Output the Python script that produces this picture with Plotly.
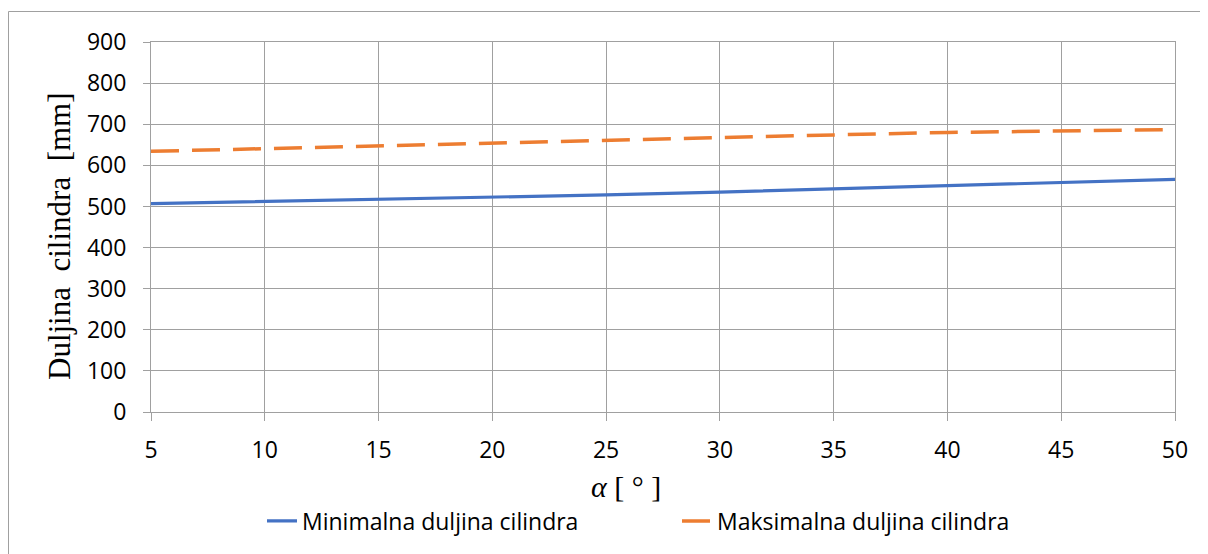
import plotly.graph_objects as go

alpha_deg = [5, 10, 15, 20, 25, 30, 35, 40, 45, 50]
min_len = [507, 512, 517, 522, 528, 535, 543, 550, 559, 566]
max_len = [634, 641, 648, 655, 662, 669, 674, 680, 684, 687]
series_names = ["Minimalna duljina cilindra", "Maksimalna duljina cilindra"]
y_ticks = [0, 100, 200, 300, 400, 500, 600, 700, 800, 900]
x_ticks = [5, 10, 15, 20, 25, 30, 35, 40, 45, 50]

# page has an 8px body margin: work in page pixels, convert to figure pixels
OFF = 8
PAGE_W, PAGE_H = 1208, 554
W, H = PAGE_W - OFF, PAGE_H - OFF
PL, PR, PT, PB = 151, 1175, 42, 412      # plot area in page pixels
L, T = PL - OFF, PT - OFF
R = W - (PR - OFF)
B = H - (PB - OFF)
pw, ph = PR - PL, PB - PT

def px(xp):
    return (xp - PL) / pw

def py(yp):
    return (PB - yp) / ph

tick_font = dict(family="Open Sans, Noto Sans, sans-serif", size=23, color="#000000")
grid = "#A0A0A0"

fig = go.Figure()
fig.add_trace(go.Scatter(x=alpha_deg, y=min_len, mode="lines", name=series_names[0],
                         line=dict(color="#4472C4", width=3.2)))
fig.add_trace(go.Scatter(x=alpha_deg, y=max_len, mode="lines", name=series_names[1],
                         line=dict(color="#ED7D31", width=3.5, dash="28px,13px")))

fig.update_layout(
    width=W, height=H,
    margin=dict(l=L, r=R, t=T, b=B, pad=0),
    paper_bgcolor="white", plot_bgcolor="white",
    font=tick_font,
    showlegend=True,
    legend=dict(orientation="h", x=px(262), xanchor="left", y=py(521), yanchor="middle",
                font=tick_font, entrywidth=370, entrywidthmode="pixels",
                bgcolor="rgba(0,0,0,0)", borderwidth=0, tracegroupgap=0),
    xaxis=dict(range=[5, 50], tickmode="array", tickvals=x_ticks, ticktext=[str(v) for v in x_ticks],
               showgrid=True, gridcolor=grid, gridwidth=1,
               showline=True, linecolor=grid, linewidth=1, mirror=True,
               ticks="outside", ticklen=8, tickcolor=grid, tickwidth=1,
               ticklabelstandoff=9, zeroline=False, tickfont=tick_font),
    yaxis=dict(range=[0, 900], tickmode="array", tickvals=y_ticks, ticktext=[str(v) for v in y_ticks],
               showgrid=True, gridcolor=grid, gridwidth=1,
               showline=True, linecolor=grid, linewidth=1, mirror=True,
               ticks="outside", ticklen=7, tickcolor=grid, tickwidth=1,
               ticklabelstandoff=12, zeroline=False, tickfont=tick_font),
)

# axis titles
fig.add_annotation(text="<i>α</i> [ ° ]", xref="paper", yref="paper", x=px(626), y=py(486),
                   xanchor="center", yanchor="middle", showarrow=False,
                   font=dict(family="Liberation Serif, Times New Roman, serif", size=30, color="#000000"))
fig.add_annotation(text="Duljina  cilindra  [mm]", xref="paper", yref="paper", x=px(59), y=py(236),
                   xanchor="center", yanchor="middle", showarrow=False, textangle=-90,
                   font=dict(family="Liberation Serif, Times New Roman, serif", size=31, color="#000000"))

# chart area border (cut off at right/bottom like the reference)
fig.add_shape(type="rect", xref="paper", yref="paper",
              x0=px(8.5), x1=px(PAGE_W + 10), y0=py(PAGE_H + 10), y1=py(11.5),
              line=dict(color="#A0A0A0", width=1), fillcolor="rgba(0,0,0,0)", layer="below")

fig.write_html("out.html")
